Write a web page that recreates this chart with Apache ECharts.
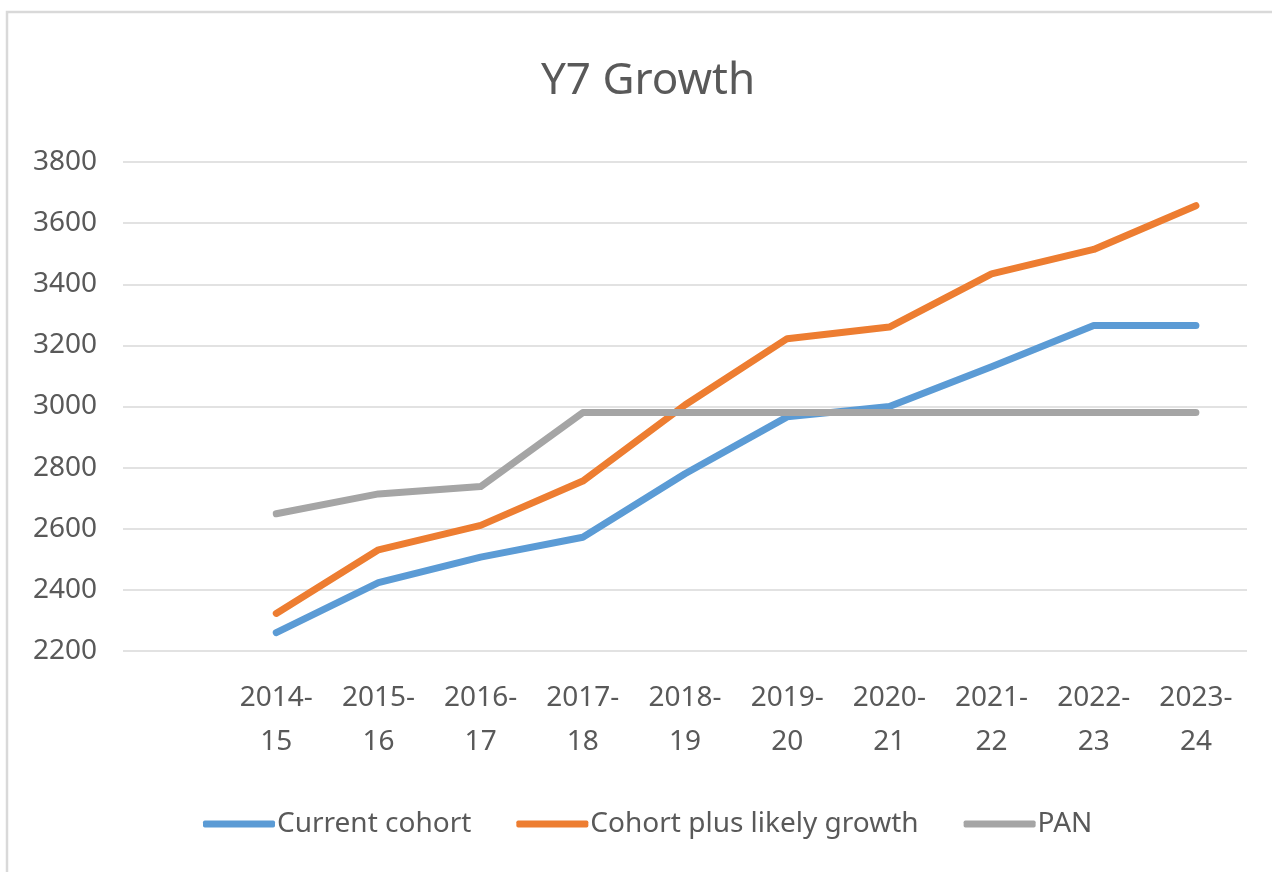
<!DOCTYPE html>
<html>
<head>
<meta charset="utf-8">
<title>Y7 Growth</title>
<script src="https://cdn.jsdelivr.net/npm/echarts@6/dist/echarts.min.js"></script>
<style>
    html, body {
        margin: 0;
        padding: 0;
        background: #ffffff;
    }
    #chart {
        width: 1272px;
        height: 872px;
    }
</style>
</head>
<body>
<div id="chart"></div>
<script>
// academic years on the x axis
const years = ['2014-15', '2015-16', '2016-17', '2017-18', '2018-19', '2019-20', '2020-21', '2021-22', '2022-23', '2023-24']

// series values
const currentCohort = [2260, 2424, 2507, 2572, 2780, 2966, 3000, 3130, 3265, 3265]
const cohortPlusGrowth = [2323, 2531, 2611, 2756, 3005, 3222, 3260, 3434, 3514, 3657]
const pan = [2649, 2714, 2738, 2980, 2980, 2980, 2980, 2980, 2980, 2980]

const yTicks = { min: 2200, max: 3800, step: 200 }

const textColor = '#595959'
const fontFamily = '"Noto Sans", "Open Sans", sans-serif'

const chart = echarts.init(document.getElementById('chart'))

// the original chart leaves one empty category before the first year
function withGap(arr) {
    return [null].concat(arr)
}

function lineSeries(name, data, color) {
    return {
        name: name,
        type: 'line',
        data: withGap(data),
        symbol: 'none',
        showSymbol: false,
        lineStyle: {
            color: color,
            width: 7,
            cap: 'round',
            join: 'round'
        },
        itemStyle: {
            color: color
        }
    }
}

const option = {
    backgroundColor: '#ffffff',
    animation: false,
    textStyle: {
        fontFamily: fontFamily
    },
    graphic: [{
        type: 'rect',
        z: -1,
        shape: { x: 7, y: 12, width: 1300, height: 900 },
        style: { fill: 'none', stroke: '#d9d9d9', lineWidth: 2.5 }
    }],
    title: {
        text: 'Y7 Growth',
        left: 643,
        top: 54,
        textAlign: 'center',
        textStyle: {
            color: textColor,
            fontSize: 44,
            fontWeight: 'normal',
            fontFamily: fontFamily
        }
    },
    legend: {
        top: 805,
        left: 198,
        icon: 'roundRect',
        itemWidth: 72,
        itemHeight: 7,
        itemGap: 45,
        textStyle: {
            color: textColor,
            fontSize: 28,
            fontFamily: fontFamily,
            padding: [0, 0, 0, -3]
        },
        data: ['Current cohort', 'Cohort plus likely growth', 'PAN']
    },
    grid: {
        left: 123,
        right: 25,
        top: 162,
        bottom: 221,
        containLabel: false
    },
    xAxis: {
        type: 'category',
        boundaryGap: true,
        data: [''].concat(years),
        axisLine: { show: false },
        axisTick: { show: false },
        axisLabel: {
            interval: 0,
            margin: 25,
            color: textColor,
            fontSize: 28,
            lineHeight: 44,
            fontFamily: fontFamily,
            formatter: function (v) {
                return v.replace('-', '-\n')
            }
        },
        splitLine: { show: false }
    },
    yAxis: {
        type: 'value',
        min: yTicks.min,
        max: yTicks.max,
        interval: yTicks.step,
        axisLine: { show: false },
        axisTick: { show: false },
        axisLabel: {
            margin: 26,
            color: textColor,
            fontSize: 28,
            fontFamily: fontFamily,
            formatter: function (v) {
                return String(v)
            }
        },
        splitLine: {
            lineStyle: {
                color: '#d9d9d9',
                width: 1.5
            }
        }
    },
    series: [
        lineSeries('Current cohort', currentCohort, '#5b9bd5'),
        lineSeries('Cohort plus likely growth', cohortPlusGrowth, '#ed7d31'),
        lineSeries('PAN', pan, '#a5a5a5')
    ]
}

chart.setOption(option)
</script>
</body>
</html>
